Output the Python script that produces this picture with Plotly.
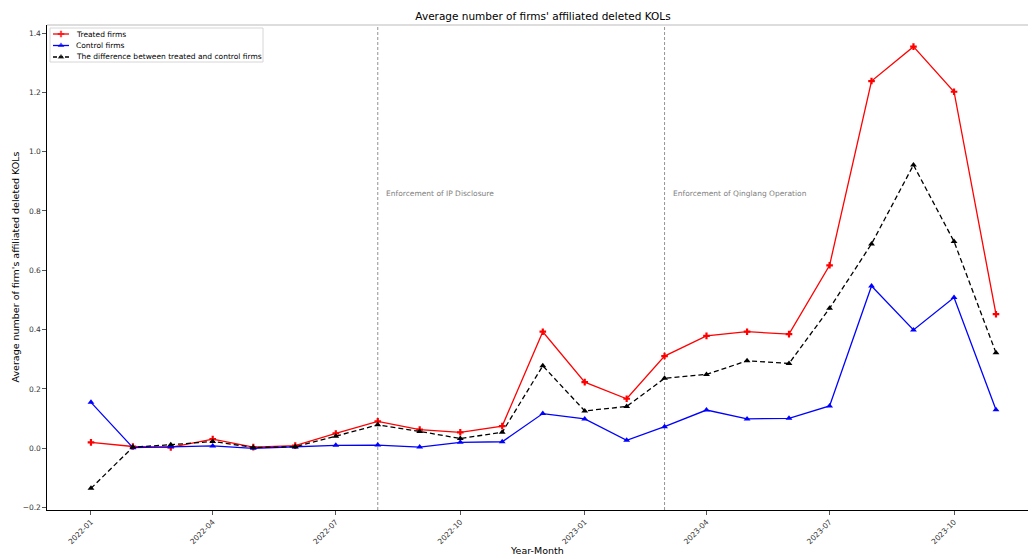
import plotly.graph_objects as go

months = ["2022-01", "2022-02", "2022-03", "2022-04", "2022-05", "2022-06", "2022-07",
          "2022-08", "2022-09", "2022-10", "2022-11", "2022-12", "2023-01", "2023-02",
          "2023-03", "2023-04", "2023-05", "2023-06", "2023-07", "2023-08", "2023-09",
          "2023-10", "2023-11"]
treated = [0.020, 0.006, 0.003, 0.031, 0.004, 0.009, 0.050, 0.091, 0.063, 0.054, 0.075,
           0.393, 0.223, 0.167, 0.311, 0.379, 0.393, 0.385, 0.617, 1.238, 1.354, 1.202, 0.452]
control = [0.155, 0.002, 0.005, 0.008, 0.000, 0.004, 0.010, 0.011, 0.004, 0.020, 0.022,
           0.117, 0.099, 0.027, 0.073, 0.129, 0.099, 0.101, 0.143, 0.547, 0.399, 0.508, 0.130]
difference = [-0.135, 0.004, 0.012, 0.023, 0.003, 0.005, 0.041, 0.079, 0.057, 0.033, 0.054,
              0.278, 0.126, 0.141, 0.236, 0.249, 0.295, 0.286, 0.472, 0.689, 0.955, 0.697, 0.322]
series_names = ["Treated firms", "Control firms",
                "The difference between treated and control firms"]
events = ["2022-08-01", "2023-03-01"]
event_labels = ["Enforcement of IP Disclosure", "Enforcement of Qinglang Operation"]
tick_months = ["2022-01", "2022-04", "2022-07", "2022-10", "2023-01", "2023-04", "2023-07", "2023-10"]
y_ticks = [-0.2, 0.0, 0.2, 0.4, 0.6, 0.8, 1.0, 1.2, 1.4]

dates = [m + "-01" for m in months]
FONT = "DejaVu Sans"
OFF = 8  # default page body margin
W, H = 1036 - OFF, 559 - OFF
L, R, T, B = 47 - OFF, 0, 25 - OFF, 49
PW, PH = W - L - R, H - T - B

colors = ["red", "blue", "black"]
symbols = ["cross", "triangle-up", "triangle-up"]
dashes = ["solid", "solid", "5px,3px"]
values = [treated, control, difference]

fig = go.Figure()
for name, vals, c, s, d in zip(series_names, values, colors, symbols, dashes):
    fig.add_trace(go.Scatter(x=dates, y=vals, mode="lines+markers", name=name,
                             showlegend=False,
                             line=dict(color=c, width=1.3, dash=d),
                             marker=dict(symbol=s, size=5.5 if s == "cross" else 6, color=c,
                                         line=dict(width=0))))

for d, lab in zip(events, event_labels):
    fig.add_shape(type="line", xref="x", yref="paper", x0=d, x1=d, y0=0, y1=1,
                  line=dict(color="#888888", width=0.9, dash="3px,2px"), layer="below")
    fig.add_annotation(x=d, y=0.86, xref="x", yref="y", text=lab, showarrow=False,
                       xanchor="left", yanchor="middle", xshift=6,
                       font=dict(family=FONT, size=7.5, color="gray"))

# top spine
fig.add_shape(type="line", xref="paper", yref="paper", x0=0, x1=1, y0=1, y1=1,
              line=dict(color="#bbbbbb", width=1.2))

# ---- compact legend (window-pixel coordinates converted to paper fractions) ----
def px(x):
    return (x - OFF - L) / PW

def py(y):
    return 1 - (y - OFF - T) / PH

fig.add_shape(type="rect", xref="paper", yref="paper", x0=px(50), x1=px(263), y0=py(28), y1=py(62),
              line=dict(color="#d6d6d6", width=1), fillcolor="rgba(255,255,255,0.85)", layer="below")
legend_y = [34, 45.5, 57]
for name, c, s, d, ly in zip(series_names, colors, symbols, dashes, legend_y):
    fig.add_shape(type="line", xref="paper", yref="paper", x0=px(53), x1=px(69), y0=py(ly), y1=py(ly),
                  line=dict(color=c, width=1.3, dash="4px,2px" if d != "solid" else "solid"))
    fig.add_annotation(text=name, xref="paper", yref="paper", x=px(74), y=py(ly),
                       xanchor="left", yanchor="middle", showarrow=False,
                       font=dict(family=FONT, size=7.5, color="black"))
fig.add_trace(go.Scatter(x=[px(61)] * 3, y=[py(v) for v in legend_y], xaxis="x2", yaxis="y2",
                         mode="markers", showlegend=False, hoverinfo="skip",
                         marker=dict(symbol=symbols, size=[5.5, 6, 6], color=colors,
                                     line=dict(width=0))))

fig.add_annotation(text="Year-Month", xref="paper", yref="paper", x=px(537), y=0,
                   yshift=-33, yanchor="top", xanchor="center", showarrow=False,
                   font=dict(family=FONT, size=9.5, color="black"))
fig.add_annotation(text="Average number of firm's affiliated deleted KOLs", xref="paper",
                   yref="paper", x=0, xshift=-32, y=0.5, xanchor="center", yanchor="middle",
                   textangle=-90, showarrow=False,
                   font=dict(family=FONT, size=9.5, color="black"))

fig.update_layout(
    width=W, height=H,
    margin=dict(l=L, r=R, t=T, b=B, autoexpand=False),
    paper_bgcolor="white", plot_bgcolor="white",
    font=dict(family=FONT, size=8, color="#333333"),
    title=dict(text="Average number of firms' affiliated deleted KOLs", x=(543 - OFF) / W,
               xanchor="center", y=1 - (16 - OFF) / H, yanchor="middle",
               font=dict(family=FONT, size=10.5, color="black")),
    showlegend=False,
    xaxis2=dict(overlaying="x", range=[0, 1], visible=False, fixedrange=True),
    yaxis2=dict(overlaying="y", range=[0, 1], visible=False, fixedrange=True),
    xaxis=dict(type="date", range=["2021-11-29 12:00", "2023-11-30 14:00"],
               tickvals=[m + "-01" for m in tick_months], ticktext=tick_months,
               tickangle=-45, showgrid=False, zeroline=False, automargin=False,
               showline=True, linecolor="black", linewidth=1.2,
               ticks="outside", ticklen=3.5, tickcolor="#555555",
               tickfont=dict(family=FONT, size=7.5, color="#333333")),
    yaxis=dict(range=[-0.208, 1.427], tickvals=y_ticks,
               ticktext=[("\u2212%.1f" % abs(v)) if v < 0 else "%.1f" % v for v in y_ticks],
               showgrid=False, zeroline=False, automargin=False,
               showline=True, linecolor="black", linewidth=1.2,
               ticks="outside", ticklen=3.5, tickcolor="#555555",
               tickfont=dict(family=FONT, size=7.5, color="#333333")),
)

fig.write_html("out.html")
